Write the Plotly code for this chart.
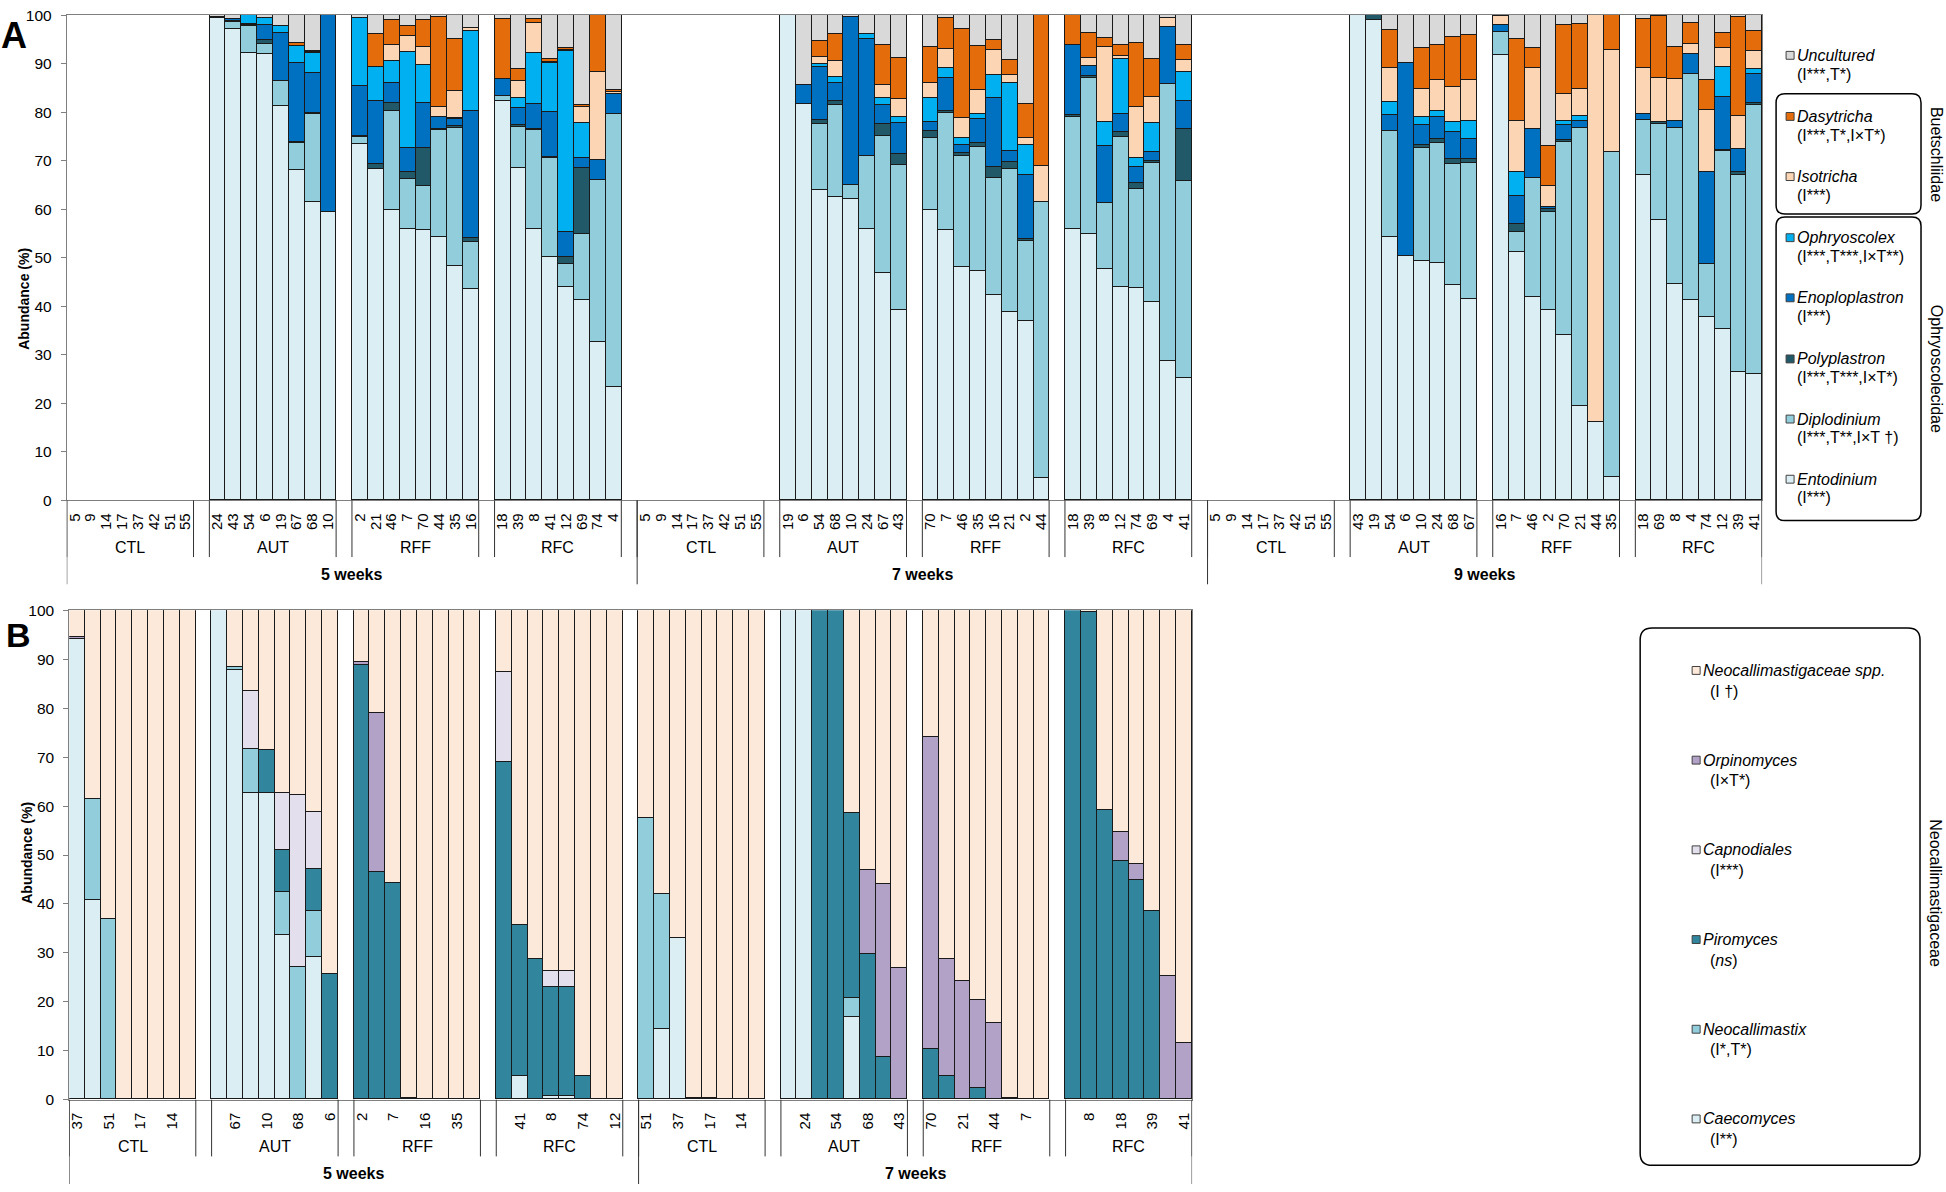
import plotly.graph_objects as go

W, H = 1946, 1192
FONT = "Arial, 'Liberation Sans', Helvetica, sans-serif"

# ---------------- panel A: ciliates ----------------
GENERA_A = ["Entodinium", "Diplodinium", "Polyplastron", "Enoploplastron",
            "Ophryoscolex", "Isotricha", "Dasytricha", "Uncultured"]
COLORS_A = ["#DAEEF3", "#92CDDC", "#215968", "#0070C0",
            "#00B0F0", "#FCD5B4", "#E46C0A", "#D9D9D9"]
STATS_A = ["(I***)", "(I***,T**,I×T †)", "(I***,T***,I×T*)", "(I***)",
           "(I***,T***,I×T**)", "(I***)", "(I***,T*,I×T*)", "(I***,T*)"]

WEEKS = ["5 weeks", "7 weeks", "9 weeks"]
GROUPS = ["CTL", "AUT", "RFF", "RFC"]
Y_TICKS = [0, 10, 20, 30, 40, 50, 60, 70, 80, 90, 100]

A5_CTL_ID = [5, 9, 14, 17, 37, 42, 51, 55]
A5_CTL = [[], [], [], [], [], [], [], []]
A5_AUT_ID = [24, 43, 54, 6, 19, 67, 68, 10]
A5_AUT = [[99.3, 0.3, 0, 0, 0, 0, 0, 0.4],
          [97.2, 1.4, 0.2, 0.4, 0, 0, 0, 0.8],
          [92.1, 5.6, 0.2, 0.2, 1.8, 0, 0, 0.1],
          [91.9, 2.2, 0.7, 3.2, 1.3, 0, 0, 0.7],
          [81.3, 5.0, 0.2, 9.7, 1.6, 0, 0, 2.2],
          [68.0, 5.7, 0.1, 16.3, 3.6, 0, 0.5, 5.8],
          [61.4, 18.3, 0.2, 8.1, 4.1, 0.2, 0.2, 7.5],
          [59.4, 0, 0, 40.6, 0, 0, 0, 0]]
A5_RFF_ID = [2, 21, 46, 7, 70, 44, 35, 16]
A5_RFF = [[73.4, 1.5, 0.2, 10.3, 13.9, 0, 0, 0.7],
          [68.3, 0, 1.1, 12.9, 6.9, 0, 6.8, 4.0],
          [59.8, 20.5, 1.6, 4.0, 4.7, 3.3, 5.0, 1.1],
          [55.8, 10.5, 1.4, 4.8, 19.9, 3.2, 2.1, 2.3],
          [55.6, 9.2, 7.7, 9.4, 7.7, 3.9, 5.5, 1.0],
          [54.3, 22.0, 0.3, 2.4, 0, 2.1, 18.4, 0.5],
          [48.2, 28.5, 0.5, 1.4, 0.2, 5.6, 10.7, 4.9],
          [43.5, 9.7, 0.8, 26.3, 16.4, 0.6, 0, 2.7]]
A5_RFC_ID = [18, 39, 8, 41, 12, 69, 74, 4]
A5_RFC = [[82.3, 1.0, 0, 3.5, 0, 0, 12.3, 0.9],
          [68.5, 8.5, 0.3, 3.5, 2.1, 3.5, 2.4, 11.2],
          [55.8, 20.5, 0.2, 5.2, 10.5, 6.1, 0.8, 0.9],
          [50.2, 20.3, 0.2, 9.4, 10.0, 0.3, 0.5, 9.1],
          [44.0, 4.7, 1.5, 5.1, 37.2, 0.2, 0.5, 6.8],
          [41.3, 13.6, 13.6, 2.0, 7.2, 3.4, 0.4, 18.5],
          [32.6, 33.3, 0, 4.2, 0, 18.1, 11.7, 0.1],
          [23.4, 56.2, 0, 4.1, 0, 0.5, 0.3, 15.5]]

A7_CTL_ID = [5, 9, 14, 17, 37, 42, 51, 55]
A7_CTL = [[], [], [], [], [], [], [], []]
A7_AUT_ID = [19, 6, 54, 68, 10, 24, 67, 43]
A7_AUT = [[100, 0, 0, 0, 0, 0, 0, 0],
          [81.6, 0, 0, 4.0, 0, 0, 0, 14.4],
          [64.0, 13.5, 0.9, 10.9, 0.7, 1.4, 3.2, 5.4],
          [62.4, 19.0, 0.9, 3.6, 1.3, 3.4, 5.4, 4.0],
          [62.1, 2.9, 0, 34.5, 0, 0, 0, 0.5],
          [56.0, 15.0, 0, 24.1, 0.9, 0, 0, 4.0],
          [46.8, 28.3, 2.4, 3.9, 1.4, 2.7, 8.4, 6.1],
          [39.3, 29.7, 2.4, 6.3, 1.3, 3.6, 8.6, 8.8]]
A7_RFF_ID = [70, 7, 46, 35, 16, 21, 2, 44]
A7_RFF = [[59.8, 14.8, 1.5, 1.9, 4.8, 3.2, 7.5, 6.5],
          [55.6, 24.2, 0.5, 6.7, 2.0, 4.0, 6.3, 0.7],
          [48.0, 23.0, 0.6, 1.6, 1.4, 4.1, 18.5, 2.8],
          [47.3, 25.4, 0.9, 4.9, 1.1, 5.0, 9.1, 6.3],
          [42.2, 24.2, 2.3, 14.3, 4.7, 5.0, 2.2, 5.1],
          [38.8, 29.5, 1.5, 2.1, 14.0, 1.8, 3.1, 9.2],
          [37.0, 16.4, 0.4, 13.3, 6.1, 1.4, 7.1, 18.3],
          [4.5, 56.9, 0, 0, 0, 7.4, 31.2, 0]]
A7_RFC_ID = [18, 39, 8, 12, 74, 69, 4, 41]
A7_RFC = [[56.0, 23.0, 0.3, 14.5, 0, 0, 6.2, 0],
          [54.8, 32.2, 0.5, 2.0, 0, 1.6, 5.1, 3.8],
          [47.6, 13.7, 0, 11.7, 4.9, 15.6, 1.8, 4.7],
          [44.0, 30.8, 1.0, 3.8, 11.3, 0.6, 2.4, 6.1],
          [43.7, 20.4, 1.2, 3.4, 1.8, 10.6, 13.2, 5.7],
          [40.8, 28.8, 0.3, 1.9, 5.9, 5.5, 7.7, 9.1],
          [28.6, 57.1, 0, 11.8, 0, 1.8, 0, 0.7],
          [25.2, 40.6, 10.8, 5.6, 6.1, 2.5, 3.0, 6.2]]

A9_CTL_ID = [5, 9, 14, 17, 37, 42, 51, 55]
A9_CTL = [[], [], [], [], [], [], [], []]
A9_AUT_ID = [43, 19, 54, 6, 10, 24, 68, 67]
A9_AUT = [[100, 0, 0, 0, 0, 0, 0, 0],
          [99.0, 0, 1.0, 0, 0, 0, 0, 0],
          [54.2, 21.9, 0, 3.3, 2.7, 6.9, 8.0, 3.0],
          [50.4, 0, 0, 39.8, 0, 0, 0, 9.8],
          [49.3, 23.2, 0.7, 4.2, 1.6, 5.8, 8.3, 6.9],
          [48.9, 24.7, 0.9, 4.5, 1.3, 6.3, 7.3, 6.1],
          [44.4, 24.8, 1.1, 5.6, 2.0, 7.3, 10.2, 4.6],
          [41.5, 28.0, 0.9, 4.0, 3.8, 8.5, 9.2, 4.1]]
A9_RFF_ID = [16, 7, 46, 2, 70, 21, 44, 35]
A9_RFF = [[91.7, 4.9, 0, 1.4, 0, 1.7, 0, 0.3],
          [51.1, 4.1, 1.7, 5.8, 4.9, 10.5, 16.9, 5.0],
          [41.8, 24.6, 0, 10.2, 0, 12.5, 4.2, 6.7],
          [39.3, 20.1, 0.6, 0.5, 0, 4.2, 8.3, 27.0],
          [34.0, 39.9, 0.4, 3.1, 0.7, 5.6, 14.3, 2.0],
          [19.5, 57.2, 0, 1.5, 1.0, 5.6, 13.4, 1.8],
          [16.2, 0, 0, 0, 0, 83.8, 0, 0],
          [4.9, 66.8, 0, 0, 0, 21.1, 7.2, 0]]
A9_RFC_ID = [18, 69, 8, 4, 74, 12, 39, 41]
A9_RFC = [[67.1, 11.2, 0, 1.3, 0, 9.5, 10.0, 0.9],
          [57.7, 19.8, 0.4, 0, 0, 9.1, 12.7, 0.3],
          [44.6, 32.2, 0, 1.4, 0, 8.6, 6.7, 6.5],
          [41.3, 46.5, 0, 4.1, 0, 2.2, 4.3, 1.6],
          [37.7, 11.0, 0, 19.0, 0, 12.8, 6.1, 13.4],
          [35.2, 36.7, 0.2, 11.1, 6.0, 4.1, 2.9, 3.8],
          [26.4, 40.6, 0.6, 4.7, 0, 6.9, 20.3, 0.5],
          [26.1, 55.3, 0.4, 6.0, 1.1, 3.6, 4.2, 3.3]]

# ---------------- panel B: fungi ----------------
GENERA_B = ["Caecomyces", "Neocallimastix", "Piromyces", "Capnodiales",
            "Orpinomyces", "Neocallimastigaceae spp."]
COLORS_B = ["#DAEEF3", "#92CDDC", "#31859C", "#E4DFEC", "#B3A2C7", "#FDE9D9"]
STATS_B = ["(I**)", "(I*,T*)", "(<i>ns</i>)", "(I***)", "(I×T*)", "(I †)"]

B5_CTL_ID = [37, 42, 51, 5, 17, 9, 14, 55]
B5_CTL = [[94.1, 0, 0, 0, 0.3, 5.6],
          [40.7, 20.7, 0, 0, 0, 38.6],
          [0, 36.9, 0, 0, 0, 63.1],
          [0, 0, 0, 0, 0, 100], [0, 0, 0, 0, 0, 100], [0, 0, 0, 0, 0, 100],
          [0, 0, 0, 0, 0, 100], [0, 0, 0, 0, 0, 100]]
B5_AUT_ID = [24, 67, 43, 10, 54, 68, 19, 6]
B5_AUT = [[100, 0, 0, 0, 0, 0],
          [87.7, 0.7, 0, 0, 0, 11.6],
          [62.7, 9.0, 0, 11.8, 0, 16.5],
          [62.7, 0, 8.6, 0, 0, 28.7],
          [33.5, 8.9, 8.6, 11.7, 0, 37.3],
          [0, 27.0, 0, 35.1, 0, 37.9],
          [29.1, 9.3, 8.6, 11.7, 0, 41.3],
          [0, 0, 25.7, 0, 0, 74.3]]
B5_RFF_ID = [2, 21, 7, 46, 16, 70, 35, 44]
B5_RFF = [[0, 0, 88.8, 0, 0.6, 10.6],
          [0, 0, 46.5, 0, 32.4, 21.1],
          [0, 0, 44.3, 0, 0, 55.7],
          [0, 0, 0.3, 0, 0, 99.7],
          [0, 0, 0, 0, 0, 100], [0, 0, 0, 0, 0, 100],
          [0, 0, 0, 0, 0, 100], [0, 0, 0, 0, 0, 100]]
B5_RFC_ID = [18, 41, 39, 8, 69, 74, 4, 12]
B5_RFC = [[0, 0, 69.0, 18.3, 0, 12.7],
          [4.7, 0, 31.0, 0, 0, 64.3],
          [0, 0, 28.7, 0, 0, 71.3],
          [0.8, 0, 22.2, 3.2, 0, 73.8],
          [0.8, 0, 22.2, 3.2, 0, 73.8],
          [0, 0, 4.7, 0, 0, 95.3],
          [0, 0, 0, 0, 0, 100], [0, 0, 0, 0, 0, 100]]
B7_CTL_ID = [51, 9, 37, 5, 17, 42, 14, 55]
B7_CTL = [[0, 57.6, 0, 0, 0, 42.4],
          [14.4, 27.6, 0, 0, 0, 58.0],
          [32.9, 0, 0, 0, 0, 67.1],
          [0, 0, 0, 0, 0.2, 99.8],
          [0, 0, 0, 0, 0.2, 99.8],
          [0, 0, 0, 0, 0, 100], [0, 0, 0, 0, 0, 100], [0, 0, 0, 0, 0, 100]]
B7_AUT_ID = [19, 24, 6, 54, 10, 68, 67, 43]
B7_AUT = [[100, 0, 0, 0, 0, 0],
          [100, 0, 0, 0, 0, 0],
          [0, 0, 100, 0, 0, 0],
          [0, 0, 100, 0, 0, 0],
          [16.9, 3.8, 37.9, 0, 0, 41.4],
          [0, 0, 29.8, 0, 17.0, 53.2],
          [0, 0, 8.7, 0, 35.4, 55.9],
          [0, 0, 0, 0, 26.8, 73.2]]
B7_RFF_ID = [70, 46, 21, 35, 44, 16, 7, 2]
B7_RFF = [[0, 0, 10.3, 0, 63.8, 25.9],
          [0, 0, 4.7, 0, 24.0, 71.3],
          [0, 0, 0, 0, 24.2, 75.8],
          [0, 0, 2.3, 0, 18.1, 79.6],
          [0, 0, 0, 0, 15.6, 84.4],
          [0, 0, 0, 0, 0.3, 99.7],
          [0, 0, 0, 0, 0, 100], [0, 0, 0, 0, 0, 100]]
B7_RFC_ID = [12, 8, 74, 18, 69, 39, 4, 41]
B7_RFC = [[0, 0, 100, 0, 0, 0],
          [0, 0, 99.6, 0, 0, 0.4],
          [0, 0, 59.1, 0, 0, 40.9],
          [0, 0, 48.8, 0, 5.8, 45.4],
          [0, 0, 44.9, 0, 3.2, 51.9],
          [0, 0, 38.4, 0, 0, 61.6],
          [0, 0, 0, 0, 25.3, 74.7],
          [0, 0, 0, 0, 11.6, 88.4]]

PANEL_A = [(WEEKS[0], [(GROUPS[0], A5_CTL_ID, A5_CTL), (GROUPS[1], A5_AUT_ID, A5_AUT),
                       (GROUPS[2], A5_RFF_ID, A5_RFF), (GROUPS[3], A5_RFC_ID, A5_RFC)]),
           (WEEKS[1], [(GROUPS[0], A7_CTL_ID, A7_CTL), (GROUPS[1], A7_AUT_ID, A7_AUT),
                       (GROUPS[2], A7_RFF_ID, A7_RFF), (GROUPS[3], A7_RFC_ID, A7_RFC)]),
           (WEEKS[2], [(GROUPS[0], A9_CTL_ID, A9_CTL), (GROUPS[1], A9_AUT_ID, A9_AUT),
                       (GROUPS[2], A9_RFF_ID, A9_RFF), (GROUPS[3], A9_RFC_ID, A9_RFC)])]
PANEL_B = [(WEEKS[0], [(GROUPS[0], B5_CTL_ID, B5_CTL), (GROUPS[1], B5_AUT_ID, B5_AUT),
                       (GROUPS[2], B5_RFF_ID, B5_RFF), (GROUPS[3], B5_RFC_ID, B5_RFC)]),
           (WEEKS[1], [(GROUPS[0], B7_CTL_ID, B7_CTL), (GROUPS[1], B7_AUT_ID, B7_AUT),
                       (GROUPS[2], B7_RFF_ID, B7_RFF), (GROUPS[3], B7_RFC_ID, B7_RFC)])]

# ---------------- geometry (page pixels) ----------------
A_BOX = dict(x0=65.8, x1=1762.0, top=6.2, bot=498.5, lab=546.5, week=574.0,
             gline=556.0, wline=583.6)
B_BOX = dict(x0=68.3, x1=1191.7, top=610.0, bot=1106.5, lab=1154.0, week=1181.0,
             gline=1164.0, wline=1192.0)
AX = "#7f7f7f"
SEP = "#333333"


def PX(px):
    return px / W


def PY(py):
    return 1 - py / H


def build(panel):
    xs, labels, rows, groups, weeks = [], [], [], [], []
    pos = 0
    for week, grps in panel:
        wstart = pos
        for gname, ids, data in grps:
            gstart = pos
            for sid, row in zip(ids, data):
                xs.append(pos)
                labels.append(str(sid))
                rows.append(row)
                pos += 1
            groups.append((gname, gstart, pos - 1))
            pos += 1
        weeks.append([week, wstart, pos - 1])
    n = pos - 1
    weeks[-1][2] = n - 1
    return xs, labels, rows, groups, weeks, n


fig = go.Figure()
shapes, annotations = [], []


def add_panel(panel, genera, colors, box, xa, ya, every_other):
    xs, labels, rows, groups, weeks, n = build(panel)
    for k, g in enumerate(genera):
        y = [(row[k] if row else None) for row in rows]
        fig.add_trace(go.Bar(x=xs, y=y, name=g, width=1, xaxis=xa, yaxis=ya,
                             marker=dict(color=colors[k], line=dict(color="#1a1a1a", width=1)),
                             hoverinfo="skip", showlegend=False))
    if every_other:
        tv = [x for x in xs if x % 2 == 0]
        tt = [l for x, l in zip(xs, labels) if x % 2 == 0]
    else:
        tv, tt = xs, labels
    xkey = "xaxis" if xa == "x" else "xaxis" + xa[1:]
    ykey = "yaxis" if ya == "y" else "yaxis" + ya[1:]
    fig.update_layout(**{
        xkey: dict(domain=[PX(box["x0"]), PX(box["x1"])], range=[-0.5, n - 0.5],
                   tickmode="array", tickvals=tv, ticktext=tt, tickangle=-90,
                   ticks="", showline=True, linecolor=AX, linewidth=1, mirror=True,
                   showgrid=False, zeroline=False, anchor=ya, ticklabelstandoff=6,
                   tickfont=dict(size=15, color="black", family=FONT), fixedrange=True),
        ykey: dict(domain=[PY(box["bot"]), PY(box["top"])], range=[0, 100],
                   tickmode="array", tickvals=Y_TICKS,
                   ticks="outside", ticklen=5, tickcolor=AX, showline=True,
                   linecolor=AX, linewidth=1, mirror=True, showgrid=False,
                   zeroline=False, anchor=xa, ticklabelstandoff=6,
                   tickfont=dict(size=15.5, color="black", family=FONT), fixedrange=True),
    })
    for gname, gs, ge in groups:
        for xv in (gs - 0.5, ge + 0.5):
            shapes.append(dict(type="line", xref=xa, yref="paper", x0=xv, x1=xv,
                               y0=PY(box["bot"]), y1=PY(box["gline"]),
                               line=dict(color=SEP, width=1)))
        annotations.append(dict(x=(gs + ge) / 2, xref=xa, y=PY(box["lab"]), yref="paper",
                                text=gname, showarrow=False, xanchor="center",
                                yanchor="middle", font=dict(size=16, color="black")))
    wl = [ws - 0.5 for _, ws, _ in weeks] + [n - 0.5]
    for xv in wl:
        shapes.append(dict(type="line", xref=xa, yref="paper", x0=xv, x1=xv,
                           y0=PY(box["bot"]), y1=PY(box["wline"]),
                           line=dict(color=SEP, width=1)))
    for wname, ws, we in weeks:
        annotations.append(dict(x=(ws + we) / 2, xref=xa, y=PY(box["week"]), yref="paper",
                                text="<b>" + wname + "</b>", showarrow=False,
                                xanchor="center", yanchor="middle",
                                font=dict(size=16, color="black")))


add_panel(PANEL_A, GENERA_A, COLORS_A, A_BOX, "x", "y", False)
add_panel(PANEL_B, GENERA_B, COLORS_B, B_BOX, "x2", "y2", True)


def rbox(x0, y0, x1, y1, r):
    p = (f"M {PX(x0 + r)},{PY(y0)} L {PX(x1 - r)},{PY(y0)} "
         f"Q {PX(x1)},{PY(y0)} {PX(x1)},{PY(y0 + r)} L {PX(x1)},{PY(y1 - r)} "
         f"Q {PX(x1)},{PY(y1)} {PX(x1 - r)},{PY(y1)} L {PX(x0 + r)},{PY(y1)} "
         f"Q {PX(x0)},{PY(y1)} {PX(x0)},{PY(y1 - r)} L {PX(x0)},{PY(y0 + r)} "
         f"Q {PX(x0)},{PY(y0)} {PX(x0 + r)},{PY(y0)} Z")
    return dict(type="path", xref="paper", yref="paper", path=p,
                line=dict(color="black", width=1.5), fillcolor="rgba(0,0,0,0)")


def text(x, y, s, size=16, anchor="left", angle=0, bold=False):
    annotations.append(dict(x=PX(x), y=PY(y), xref="paper", yref="paper",
                            text=("<b>%s</b>" % s) if bold else s, showarrow=False,
                            xanchor=anchor, yanchor="middle", textangle=angle,
                            font=dict(size=size, color="black")))


def swatch(cx, cy, color, s=8):
    shapes.append(dict(type="rect", xref="paper", yref="paper",
                       x0=PX(cx - s / 2), x1=PX(cx + s / 2),
                       y0=PY(cy + s / 2), y1=PY(cy - s / 2),
                       fillcolor=color, line=dict(color="#404040", width=1)))


# legend A (top to bottom = reverse stacking order)
LEG_A_Y = [47, 109, 170, 232, 293, 355, 416, 477]
for i, k in enumerate(reversed(range(len(GENERA_A)))):
    y = LEG_A_Y[i]
    swatch(1790, y, COLORS_A[k])
    text(1795, y, "<i>" + GENERA_A[k] + "</i>")
    text(1795, y + 19, STATS_A[k])
shapes.append(rbox(1776, 86, 1921, 208, 9))
shapes.append(rbox(1776, 211, 1921, 519, 9))
text(1936, 147, "Buetschliidae", anchor="center", angle=90)
text(1936, 365, "Ophryoscolecidae", anchor="center", angle=90)

# legend B
LEG_B_Y = [671, 762, 853, 944, 1035, 1126]
for i, k in enumerate(reversed(range(len(GENERA_B)))):
    y = LEG_B_Y[i]
    swatch(1696, y, COLORS_B[k])
    text(1701, y, "<i>" + GENERA_B[k] + "</i>")
    text(1708, y + 21, STATS_B[k])
shapes.append(rbox(1640, 628, 1920, 1173, 12))
text(1936, 897, "Neocallimastigaceae", anchor="center", angle=90)

# axis titles & panel letters
text(23, 294, "Abundance (%)", size=14, anchor="center", angle=-90, bold=True)
text(26, 856, "Abundance (%)", size=14, anchor="center", angle=-90, bold=True)
text(13, 27, "A", size=36, anchor="center", bold=True)
text(18, 635, "B", size=34, anchor="center", bold=True)

fig.update_layout(width=W, height=H, margin=dict(l=0, r=0, t=0, b=0, pad=0),
                  paper_bgcolor="white", plot_bgcolor="white",
                  barmode="stack", bargap=0, showlegend=False,
                  font=dict(family=FONT, color="black"),
                  shapes=shapes, annotations=annotations)

# page style: no body margin so the 1946x1192 figure fills the window exactly
PAGE_CSS = ('data:text/javascript,0"></script>'
            '<style>html,body{margin:0;padding:0;overflow:hidden}</style>'
            '<script src="data:text/javascript,0;//.js')

fig.write_html("out.html", include_plotlyjs=True, include_mathjax=PAGE_CSS,
               config={"displayModeBar": False})
